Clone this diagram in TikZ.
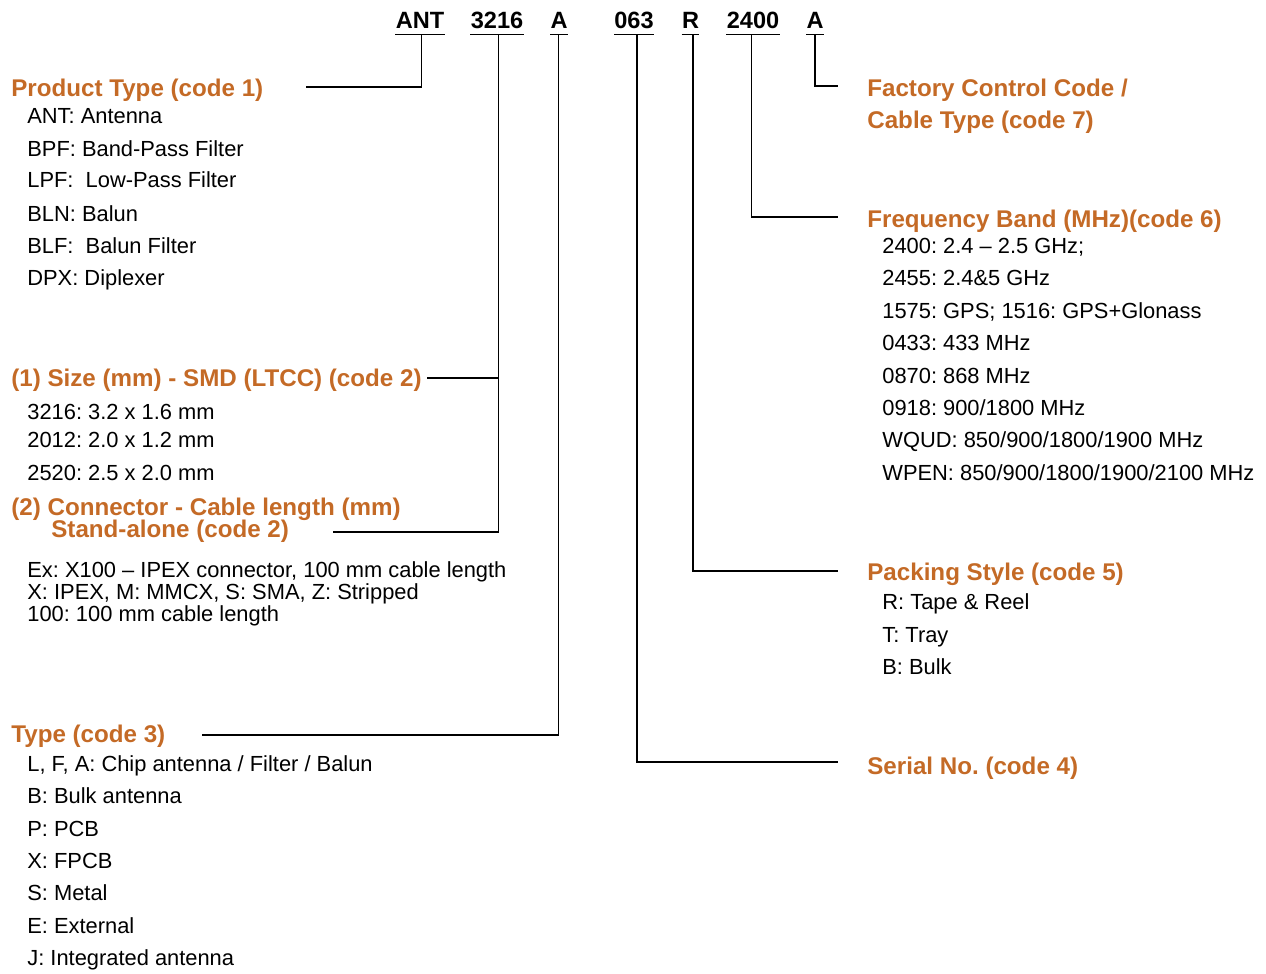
\documentclass[tikz,border=0pt]{standalone}
\usepackage{fontspec}
\setmainfont{Liberation Sans}
\usetikzlibrary{positioning}
\definecolor{CodeOrange}{RGB}{196,106,38}

\begin{document}
\frenchspacing
\begin{tikzpicture}[x=0.02cm,y=-0.02cm,
    head/.style={anchor=base west,inner sep=0pt,text=CodeOrange,font=\fontsize{13.75}{15}\selectfont\bfseries},
    item/.style={anchor=base west,inner sep=0pt,font=\fontsize{12.45}{14}\selectfont},
    code/.style={anchor=base,inner xsep=0pt,inner ysep=2.8pt,font=\fontsize{13.4}{15}\selectfont\bfseries},
    link/.style={line width=0.6pt,black}]
  \useasboundingbox (0,0) rectangle (1266,973);
  % part number
  \node[code] (cAnt) at (420,29) {ANT};
  \node[code] (cSize) at (497,29) {3216};
  \node[code] (cType) at (559,29) {A};
  \node[code] (cSerial) at (634,29) {063};
  \node[code] (cPack) at (690.5,29) {R};
  \node[code] (cFreq) at (753,29) {2400};
  \node[code] (cCtrl) at (815,29) {A};
  \foreach \c in {cAnt,cSize,cType,cSerial,cPack,cFreq,cCtrl}
    \draw[link] (\c.south west) -- (\c.south east);
  % left column
  \node[head] (hProd) at (11,97) {Product Type (code 1)};
  \foreach \txt/\yy [count=\i] in {ANT: Antenna/124, BPF: Band-Pass Filter/156, LPF:~ Low-Pass Filter/188,
      BLN: Balun/221, BLF:~ Balun Filter/253, DPX: Diplexer/285}
    \node[item] (prod\i) at (27,\yy) {\txt};
  \node[head] (hSize) at (11,386) {(1) Size (mm) - SMD (LTCC) (code 2)};
  \foreach \txt/\yy [count=\i] in {3216: 3.2 x 1.6 mm/419, 2012: 2.0 x 1.2 mm/447, 2520: 2.5 x 2.0 mm/480}
    \node[item] (size\i) at (27,\yy) {\txt};
  \node[head] (hConn) at (11,515) {(2) Connector - Cable length (mm)};
  \node[head] (hStand) at (51,537) {Stand-alone (code 2)};
  \foreach \txt/\yy [count=\i] in {{Ex: X100 – IPEX connector, 100 mm cable length}/577,
      {X: IPEX, M: MMCX, S: SMA, Z: Stripped}/599, {100: 100 mm cable length}/621}
    \node[item] (conn\i) at (27,\yy) {\txt};
  \node[head] (hType) at (11,742) {Type (code 3)};
  \foreach \txt/\yy [count=\i] in {{L, F, A: Chip antenna / Filter / Balun}/771, {B: Bulk antenna}/803,
      {P: PCB}/836, {X: FPCB}/868, {S: Metal}/900, {E: External}/933, {J: Integrated antenna}/965}
    \node[item] (type\i) at (27,\yy) {\txt};
  % right column
  \node[head] (hCtrl) at (867,97) {Factory Control Code /};
  \node[head] (hCable) at (867,129) {Cable Type (code 7)};
  \node[head] (hFreq) at (867,227) {Frequency Band (MHz)(code 6)};
  \foreach \txt/\yy [count=\i] in {{2400: 2.4 – 2.5 GHz;}/253, {2455: 2.4\&5 GHz}/285,
      {1575: GPS; 1516: GPS+Glonass}/318, {0433: 433 MHz}/350, {0870: 868 MHz}/383,
      {0918: 900/1800 MHz}/415, {WQUD: 850/900/1800/1900 MHz}/447, {WPEN: 850/900/1800/1900/2100 MHz}/480}
    \node[item] (freq\i) at (882,\yy) {\txt};
  \node[head] (hPack) at (867,580) {Packing Style (code 5)};
  \foreach \txt/\yy [count=\i] in {{R: Tape \& Reel}/609, {T: Tray}/642, {B: Bulk}/674}
    \node[item] (pack\i) at (882,\yy) {\txt};
  \node[head] (hSerial) at (867,774) {Serial No. (code 4)};
  % connectors
  \coordinate (eProd) at (306,87);
  \coordinate (eSize) at (427,378);
  \coordinate (eStand) at (333,532);
  \coordinate (eType) at (202,735);
  \coordinate (eSerial) at (838,762);
  \coordinate (ePack) at (838,571);
  \coordinate (eFreq) at (838,217);
  \coordinate (eCtrl) at (838,86);
  \draw[link] ([xshift=1.1pt]cAnt.south) |- (eProd);
  \draw[link] ([xshift=1.1pt]cSize.south) |- (eStand);
  \draw[link] (eSize) -- ++(72,0);
  \draw[link] ([xshift=-0.5pt]cType.south) |- (eType);
  \draw[link] ([xshift=1.7pt]cSerial.south) |- (eSerial);
  \draw[link] ([xshift=1.4pt]cPack.south) |- (ePack);
  \draw[link] ([xshift=-1.1pt]cFreq.south) |- (eFreq);
  \draw[link] (cCtrl.south) |- (eCtrl);
\end{tikzpicture}
\end{document}
